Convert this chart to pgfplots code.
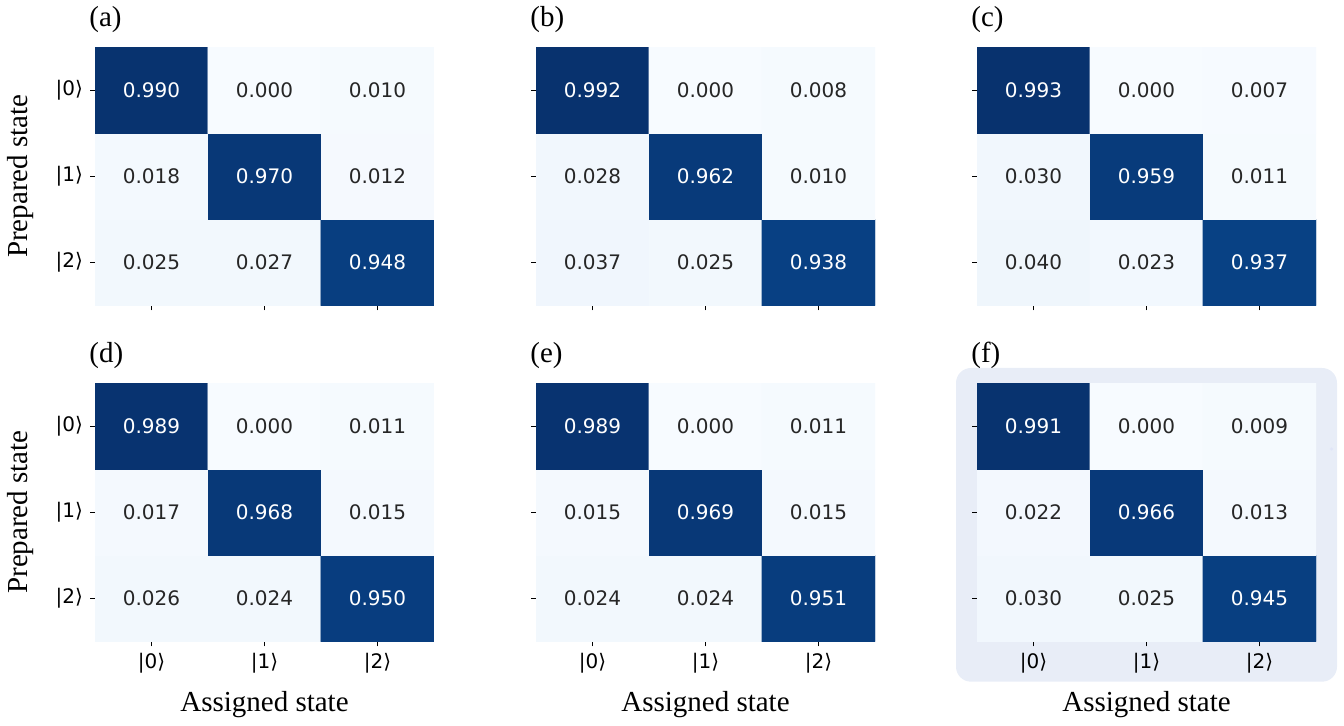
\documentclass[border=0pt]{standalone}
\usepackage{fontspec}
\setmainfont{Liberation Serif}
\newfontfamily\dejavu{DejaVu Sans}
\usepackage{pgfplots}
\pgfplotsset{compat=1.18}
\definecolor{tdark}{RGB}{38,38,38}
\definecolor{hilite}{RGB}{232,237,247}
\newcommand\valfont{\dejavu\fontsize{10}{12}\selectfont}
\newcommand\labfont{\fontsize{14.5}{17}\selectfont}
\pgfplotsset{
  colormap={blues}{rgb255=(247,251,255) rgb255=(222,235,247) rgb255=(198,219,239) rgb255=(158,202,225) rgb255=(107,174,214) rgb255=(66,146,198) rgb255=(33,113,181) rgb255=(8,81,156) rgb255=(8,48,107)},
  hm/.style={
    scale only axis, width=169.5pt, height=129pt,
    xmin=-0.5, xmax=2.5, ymin=-0.5, ymax=2.5,
    axis line style={draw=none},
    xtick={0,1,2}, ytick={0,1,2},
    xtick pos=left, ytick pos=left,
    tick align=outside, major tick length=2.5pt,
    tick style={black, line width=0.7pt},
    tick label style={font=\valfont, text=black},
    colormap name=blues, point meta min=0, point meta max=1,
    anchor=south west,
  },
  nolabx/.style={xticklabels={}},
  labx/.style={xticklabels={|0⟩,|1⟩,|2⟩}},
  noly/.style={yticklabels={}},
  laby/.style={yticklabels={|2⟩,|1⟩,|0⟩}},
}
\newcommand\cells[9]{%
  \addplot[matrix plot*, mesh/cols=3, mesh/rows=3, point meta=explicit] coordinates {
    (0,0) [#7] (1,0) [#8] (2,0) [#9]
    (0,1) [#4] (1,1) [#5] (2,1) [#6]
    (0,2) [#1] (1,2) [#2] (2,2) [#3]};
  \addplot[draw=none, mark=none, point meta=explicit symbolic, nodes near coords,
    every node near coord/.append style={anchor=center, text=tdark, font=\valfont}] coordinates {
    (1,2) [#2] (2,2) [#3] (0,1) [#4] (2,1) [#6] (0,0) [#7] (1,0) [#8]};
  \addplot[draw=none, mark=none, point meta=explicit symbolic, nodes near coords,
    every node near coord/.append style={anchor=center, text=white, font=\valfont}] coordinates {
    (0,2) [#1] (1,1) [#5] (2,0) [#9]};
}
\begin{document}
\begin{tikzpicture}
\path[use as bounding box] (0,0) rectangle (672pt,363pt);
% highlight box behind panel (f)
\fill[hilite, rounded corners=7.5pt] (478pt,22.15pt) rectangle (668.5pt,179pt);
\fill[hilite!85!blue!90!white, opacity=0.25] (665.8pt,138.5pt) circle (0.9pt);
% row 1
\begin{axis}[hm, nolabx, laby, at={(47.5pt,210.25pt)}]
\cells{0.990}{0.000}{0.010}{0.018}{0.970}{0.012}{0.025}{0.027}{0.948}
\end{axis}
\begin{axis}[hm, nolabx, noly, at={(268pt,210.25pt)}]
\cells{0.992}{0.000}{0.008}{0.028}{0.962}{0.010}{0.037}{0.025}{0.938}
\end{axis}
\begin{axis}[hm, nolabx, noly, at={(488.5pt,210.25pt)}]
\cells{0.993}{0.000}{0.007}{0.030}{0.959}{0.011}{0.040}{0.023}{0.937}
\end{axis}
% row 2
\begin{axis}[hm, labx, laby, at={(47.5pt,42.25pt)}]
\cells{0.989}{0.000}{0.011}{0.017}{0.968}{0.015}{0.026}{0.024}{0.950}
\end{axis}
\begin{axis}[hm, labx, noly, at={(268pt,42.25pt)}]
\cells{0.989}{0.000}{0.011}{0.015}{0.969}{0.015}{0.024}{0.024}{0.951}
\end{axis}
\begin{axis}[hm, labx, noly, at={(488.5pt,42.25pt)}]
\cells{0.991}{0.000}{0.009}{0.022}{0.966}{0.013}{0.030}{0.025}{0.945}
\end{axis}
% panel labels
\node[anchor=base west, inner sep=0pt, font=\labfont] at (44.5pt,349.5pt) {(a)};
\node[anchor=base west, inner sep=0pt, font=\labfont] at (265pt,349.5pt) {(b)};
\node[anchor=base west, inner sep=0pt, font=\labfont] at (485.5pt,349.5pt) {(c)};
\node[anchor=base west, inner sep=0pt, font=\labfont] at (44.5pt,181.6pt) {(d)};
\node[anchor=base west, inner sep=0pt, font=\labfont] at (265pt,181.6pt) {(e)};
\node[anchor=base west, inner sep=0pt, font=\labfont] at (485.5pt,181.6pt) {(f)};
% axis titles
\node[anchor=base, rotate=90, inner sep=0pt, font=\labfont] at (13.5pt,274.9pt) {Prepared state};
\node[anchor=base, rotate=90, inner sep=0pt, font=\labfont] at (13.5pt,107pt) {Prepared state};
\node[anchor=base, inner sep=0pt, font=\labfont] at (132.25pt,7pt) {Assigned state};
\node[anchor=base, inner sep=0pt, font=\labfont] at (352.75pt,7pt) {Assigned state};
\node[anchor=base, inner sep=0pt, font=\labfont] at (573.25pt,7pt) {Assigned state};
\end{tikzpicture}
\end{document}
